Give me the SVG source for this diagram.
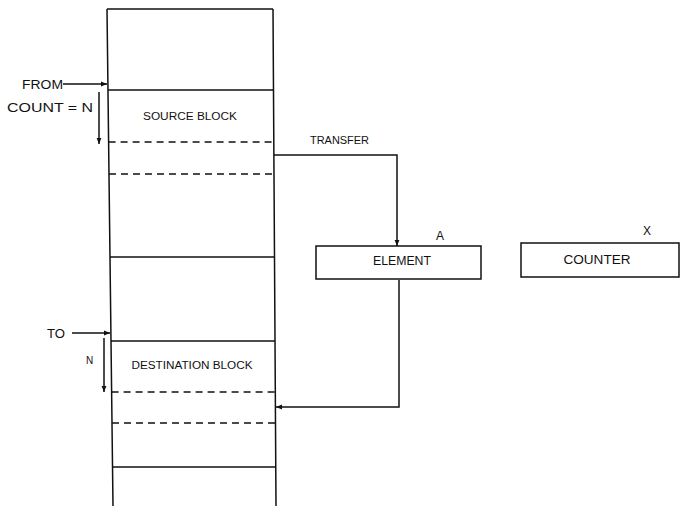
<svg xmlns="http://www.w3.org/2000/svg" width="685" height="506" viewBox="0 0 685 506">
<style>
.ln{stroke:#111;stroke-width:1.5;fill:none}
.dash{stroke:#111;stroke-width:1.5;fill:none;stroke-dasharray:7,5}
.box{stroke:#111;stroke-width:1.5;fill:#fff}
text{font-family:"Liberation Sans",Arial,sans-serif;fill:#111}
.s{font-size:10px}
.m{font-size:12px}
</style>
<defs>
<marker id="ah" viewBox="0 0 10 10" refX="10" refY="5" markerWidth="6" markerHeight="6" orient="auto-start-reverse" markerUnits="userSpaceOnUse">
<path d="M0,1 L10,5 L0,9 Z" fill="#111"/>
</marker>
</defs>
<rect width="685" height="506" fill="#fff"/>
<g id="memory">
<path class="ln" d="M107,9 L273,9 M107,9 L113,506 M273,9 L276,506"/>
<path class="ln" d="M108,90 L273.5,90 M110,257 L274.5,257 M111,341 L275,341 M112.5,467 L275.8,467"/>
<path class="dash" d="M108.6,142 L273.8,142 M109,174 L274,174 M111.6,392 L275.3,392 M112,423 L275.5,423"/>
<text class="s" x="190" y="120" text-anchor="middle" textLength="94" lengthAdjust="spacingAndGlyphs">SOURCE BLOCK</text>
<text class="s" x="192" y="369" text-anchor="middle" textLength="121" lengthAdjust="spacingAndGlyphs">DESTINATION BLOCK</text>
</g>
<g id="element">
<rect class="box" x="316" y="246" width="165" height="33"/>
<text class="m" x="402" y="265" text-anchor="middle" textLength="58" lengthAdjust="spacingAndGlyphs">ELEMENT</text>
<text class="m" x="440" y="240" text-anchor="middle">A</text>
</g>
<g id="counter">
<rect class="box" x="521" y="243" width="158" height="34"/>
<text class="m" x="597" y="264" text-anchor="middle" textLength="67" lengthAdjust="spacingAndGlyphs">COUNTER</text>
<text class="m" x="647" y="235" text-anchor="middle">X</text>
</g>
<g id="connectors">
<path class="ln" d="M63,84 L107,84" marker-end="url(#ah)"/>
<path class="ln" d="M99,92 L99,144" marker-end="url(#ah)"/>
<path class="ln" d="M72,333 L110,333" marker-end="url(#ah)"/>
<path class="ln" d="M104,338 L104,392" marker-end="url(#ah)"/>
<path class="ln" d="M274,155 L397,155 L397,246" marker-end="url(#ah)"/>
<path class="ln" d="M399,280 L399,407 L276,407" marker-end="url(#ah)"/>
</g>
<g id="labels">
<text class="m" x="22" y="89" textLength="41" lengthAdjust="spacingAndGlyphs">FROM</text>
<text class="m" x="7" y="112" textLength="86" lengthAdjust="spacingAndGlyphs">COUNT = N</text>
<text class="s" x="310" y="144" textLength="59" lengthAdjust="spacingAndGlyphs">TRANSFER</text>
<text class="m" x="47" y="338" textLength="18" lengthAdjust="spacingAndGlyphs">TO</text>
<text class="s" x="86" y="364">N</text>
</g>
</svg>
